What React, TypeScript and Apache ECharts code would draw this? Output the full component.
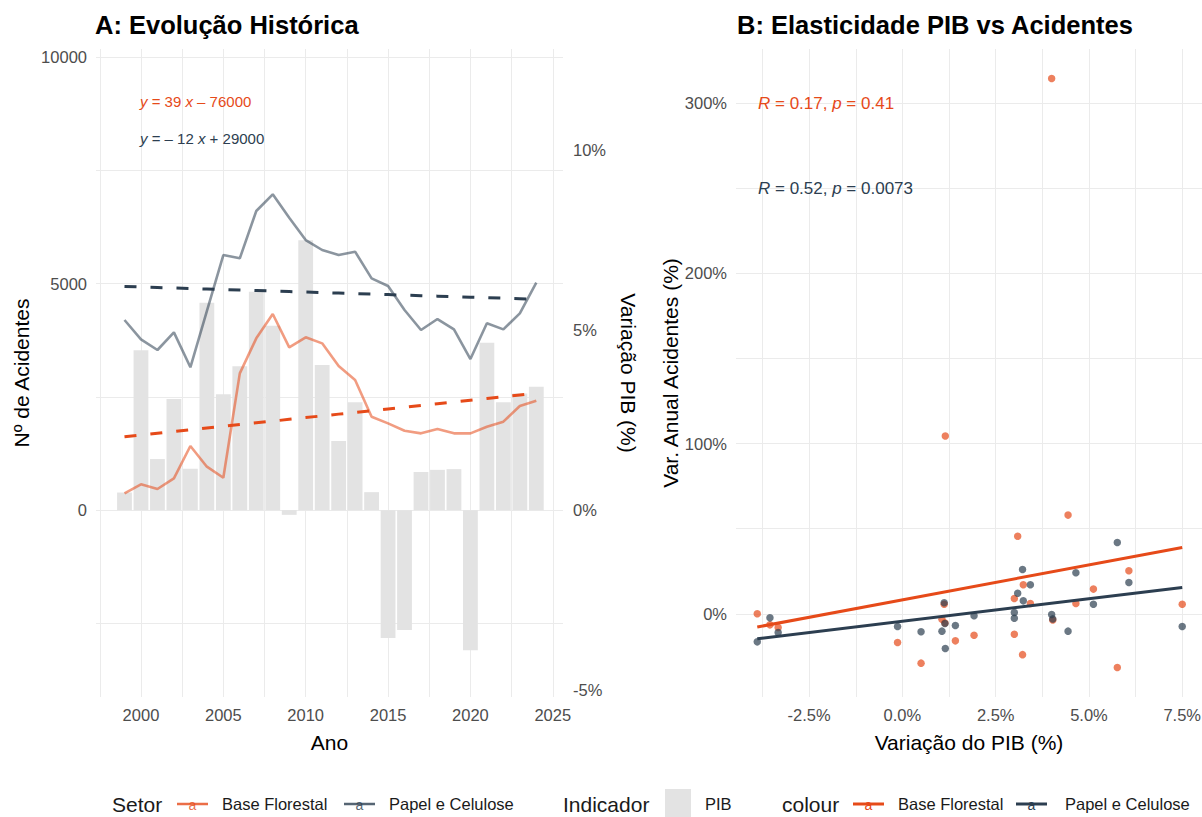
import React, { useEffect, useRef } from "react";
import * as echarts from "echarts";

const FONT = "'Liberation Sans', Arial, sans-serif";

const ORANGE = "#E64A19";
const NAVY = "#2C3E50";

// Panel A data
const years = [1999, 2000, 2001, 2002, 2003, 2004, 2005, 2006, 2007, 2008, 2009, 2010, 2011, 2012, 2013, 2014, 2015, 2016, 2017, 2018, 2019, 2020, 2021, 2022, 2023, 2024];
const pib = [0.49, 4.44, 1.42, 3.09, 1.15, 5.76, 3.22, 4.0, 6.07, 5.12, -0.13, 7.5, 4.03, 1.92, 3.0, 0.5, -3.55, -3.33, 1.06, 1.12, 1.14, -3.89, 4.65, 3.0, 3.24, 3.43];
const baseFlorestal = [368, 567, 464, 700, 1413, 956, 713, 3017, 3790, 4327, 3591, 3812, 3679, 3179, 2870, 2060, 1913, 1751, 1692, 1788, 1692, 1692, 1839, 1950, 2296, 2413];
const papelCelulose = [4194, 3768, 3532, 3922, 3150, 4390, 5629, 5556, 6600, 6969, 6450, 5960, 5740, 5630, 5703, 5114, 4945, 4415, 3973, 4216, 3988, 3333, 4121, 3988, 4342, 5020];

// Panel B data (years 2000..2024): annual variation of accidents (%)
const varBaseFlorestal = [58, -15.9, 45.6, 104.5, -31.6, -24, 314.6, 25.3, 14.5, -16.9, 5.6, -3.7, -12.6, -12, -29, -6.5, -8.1, -3.2, 5.6, -5.4, 0, 6, 9, 17.1, 6];
const varPapelCelulose = [-10.2, -6.9, 12.1, -20.4, 41.9, 26, -0.4, 18.4, 5.6, -7.5, -7.5, -3, -1.2, 0.8, -10.6, -2.4, -11, -10.2, 6.5, -5.7, -16.5, 24.1, -2.6, 7.6, 17.1];

// Tick values
const yearLabels = [2000, 2005, 2010, 2015, 2020, 2025];
const yearGrid = [1997.5, 2000, 2002.5, 2005, 2007.5, 2010, 2012.5, 2015, 2017.5, 2020, 2022.5, 2025];
const accLabels = [0, 5000, 10000];
const accGrid = [-2500, 0, 2500, 5000, 7500, 10000];
const pibLabels = [-5, 0, 5, 10];
const gdpLabels = [-2.5, 0, 2.5, 5, 7.5];
const gdpGrid = [-3.75, -2.5, -1.25, 0, 1.25, 2.5, 3.75, 5, 6.25, 7.5];
const varLabels = [0, 100, 200, 300];
const varGrid = [0, 50, 100, 150, 200, 250, 300];

function linReg(xs: number[], ys: number[]) {
  const n = xs.length;
  const mx = xs.reduce((s, v) => s + v, 0) / n;
  const my = ys.reduce((s, v) => s + v, 0) / n;
  let sxy = 0, sxx = 0;
  for (let i = 0; i < n; i++) {
    sxy += (xs[i] - mx) * (ys[i] - my);
    sxx += (xs[i] - mx) * (xs[i] - mx);
  }
  const b = sxy / sxx;
  return { a: my - b * mx, b };
}

const GRID_COLOR = "#EBEBEB";
const TICK_COLOR = "#4D4D4D";

export default function App() {
  const ref = useRef<HTMLDivElement>(null);
  useEffect(() => {
    document.body.style.margin = "0";
    const chart = echarts.init(ref.current!, undefined, { renderer: "svg" });

    const gdpX = pib.slice(1);
    const regBF = linReg(years, baseFlorestal);
    const regPC = linReg(years, papelCelulose);
    const sBF = linReg(gdpX, varBaseFlorestal);
    const sPC = linReg(gdpX, varPapelCelulose);
    const xmin = Math.min(...gdpX);
    const xmax = Math.max(...gdpX);

    const tickLabel = { color: TICK_COLOR, fontSize: 16.5, fontFamily: FONT };
    const nameStyle = { color: "#000", fontSize: 21, fontFamily: FONT };
    const split = { show: true, lineStyle: { color: GRID_COLOR, width: 1 } };

    const legendY = 804;
    const legendText = (x: number, text: string, size: number) => ({
      type: "text",
      x,
      y: legendY,
      style: { text, fill: "#1A1A1A", font: `${size}px ${FONT}`, verticalAlign: "middle", align: "left" },
    });
    const legendKey = (x: number, color: string, w: number, op: number) => [
      { type: "line", shape: { x1: x, y1: legendY, x2: x + 31, y2: legendY }, style: { stroke: color, lineWidth: w, opacity: op } },
      { type: "text", x: x + 15.5, y: legendY + 1, style: { text: "a", fill: color, opacity: op, font: `14px ${FONT}`, align: "center", verticalAlign: "middle" } },
    ];

    const option: any = {
      animation: false,
      backgroundColor: "#fff",
      grid: [
        { left: 96, top: 49, width: 467, height: 648, outerBoundsMode: "none" },
        { left: 736, top: 49, width: 466, height: 648, outerBoundsMode: "none" },
      ],
      xAxis: [
        {
          type: "value", gridIndex: 0, min: 1997.27, max: 2025.62,
          axisLine: { show: false },
          axisTick: { show: false, customValues: yearGrid },
          splitLine: { ...split, customValues: yearGrid },
          axisLabel: { ...tickLabel, customValues: yearLabels, margin: 9, formatter: (v: number) => String(v) },
          name: "Ano", nameLocation: "middle", nameGap: 35, nameTextStyle: nameStyle,
        },
        {
          type: "value", gridIndex: 1, min: -4.46, max: 8.03,
          axisLine: { show: false },
          axisTick: { show: false, customValues: gdpGrid },
          splitLine: { ...split, customValues: gdpGrid },
          axisLabel: { ...tickLabel, customValues: gdpLabels, margin: 9, formatter: (v: number) => v.toFixed(1) + "%" },
          name: "Variação do PIB (%)", nameLocation: "middle", nameGap: 35, nameTextStyle: nameStyle,
        },
      ],
      yAxis: [
        {
          type: "value", gridIndex: 0, min: -4128, max: 10177,
          axisLine: { show: false },
          axisTick: { show: false, customValues: accGrid },
          splitLine: { ...split, customValues: accGrid },
          axisLabel: { ...tickLabel, customValues: accLabels, margin: 9, formatter: (v: number) => String(v) },
          name: "Nº de Acidentes", nameLocation: "middle", nameGap: 64, nameTextStyle: nameStyle,
        },
        {
          type: "value", gridIndex: 0, position: "right", min: -5.19, max: 12.81,
          axisLine: { show: false },
          axisTick: { show: false, customValues: pibLabels },
          splitLine: { show: false },
          axisLabel: { ...tickLabel, customValues: pibLabels, margin: 10, formatter: (v: number) => v + "%" },
          name: "Variação PIB (%)", nameLocation: "middle", nameGap: 55, nameRotate: -90, nameTextStyle: nameStyle,
        },
        {
          type: "value", gridIndex: 1, min: -48.9, max: 331.9,
          axisLine: { show: false },
          axisTick: { show: false, customValues: varGrid },
          splitLine: { ...split, customValues: varGrid },
          axisLabel: { ...tickLabel, customValues: varLabels, margin: 9, formatter: (v: number) => v + "%" },
          name: "Var. Anual Acidentes (%)", nameLocation: "middle", nameGap: 54, nameTextStyle: nameStyle,
        },
      ],
      series: [
        {
          name: "PIB", type: "bar", xAxisIndex: 0, yAxisIndex: 1,
          data: years.map((y, i) => [y, pib[i]]),
          barWidth: 14.8, itemStyle: { color: "#E3E3E3" }, z: 1,
        },
        {
          name: "Base Florestal", type: "line", xAxisIndex: 0, yAxisIndex: 0,
          data: years.map((y, i) => [y, baseFlorestal[i]]),
          showSymbol: false, symbol: "none",
          lineStyle: { color: ORANGE, width: 2.6, opacity: 0.55 }, z: 2,
        },
        {
          name: "Papel e Celulose", type: "line", xAxisIndex: 0, yAxisIndex: 0,
          data: years.map((y, i) => [y, papelCelulose[i]]),
          showSymbol: false, symbol: "none",
          lineStyle: { color: NAVY, width: 2.6, opacity: 0.55 }, z: 2,
        },
        {
          name: "Tendência BF", type: "line", xAxisIndex: 0, yAxisIndex: 0,
          data: years.map((y) => [y, regBF.a + regBF.b * y]),
          showSymbol: false, symbol: "none",
          lineStyle: { color: ORANGE, width: 3, type: [12, 14] }, z: 3,
        },
        {
          name: "Tendência PC", type: "line", xAxisIndex: 0, yAxisIndex: 0,
          data: years.map((y) => [y, regPC.a + regPC.b * y]),
          showSymbol: false, symbol: "none",
          lineStyle: { color: NAVY, width: 3, type: [12, 14] }, z: 3,
        },
        {
          name: "BF pontos", type: "scatter", xAxisIndex: 1, yAxisIndex: 2,
          data: gdpX.map((x, i) => [x, varBaseFlorestal[i]]),
          symbolSize: 7.5, itemStyle: { color: ORANGE, opacity: 0.7 }, z: 2,
        },
        {
          name: "PC pontos", type: "scatter", xAxisIndex: 1, yAxisIndex: 2,
          data: gdpX.map((x, i) => [x, varPapelCelulose[i]]),
          symbolSize: 7.5, itemStyle: { color: NAVY, opacity: 0.7 }, z: 2,
        },
        {
          name: "BF reg", type: "line", xAxisIndex: 1, yAxisIndex: 2,
          data: [[xmin, sBF.a + sBF.b * xmin], [xmax, sBF.a + sBF.b * xmax]],
          showSymbol: false, symbol: "none",
          lineStyle: { color: ORANGE, width: 3 }, z: 3,
        },
        {
          name: "PC reg", type: "line", xAxisIndex: 1, yAxisIndex: 2,
          data: [[xmin, sPC.a + sPC.b * xmin], [xmax, sPC.a + sPC.b * xmax]],
          showSymbol: false, symbol: "none",
          lineStyle: { color: NAVY, width: 3 }, z: 3,
        },
      ],
      graphic: [
        { type: "text", x: 95, y: 25, style: { text: "A: Evolução Histórica", fill: "#000", font: `bold 25.5px ${FONT}`, verticalAlign: "middle" } },
        { type: "text", x: 737, y: 25, style: { text: "B: Elasticidade PIB vs Acidentes", fill: "#000", font: `bold 25.5px ${FONT}`, verticalAlign: "middle" } },
        {
          type: "text", x: 140, y: 101, z: 10,
          style: {
            text: "{i|y} = 39 {i|x} – 76000", fill: ORANGE, font: `15px ${FONT}`, verticalAlign: "middle",
            rich: { i: { fontStyle: "italic", fontSize: 15, fontFamily: FONT, fill: ORANGE } },
          },
        },
        {
          type: "text", x: 140, y: 138, z: 10,
          style: {
            text: "{i|y} = – 12 {i|x} + 29000", fill: NAVY, font: `15px ${FONT}`, verticalAlign: "middle",
            rich: { i: { fontStyle: "italic", fontSize: 15, fontFamily: FONT, fill: NAVY } },
          },
        },
        {
          type: "text", x: 758, y: 103, z: 10,
          style: {
            text: "{i|R} = 0.17, {i|p} = 0.41", fill: ORANGE, font: `17px ${FONT}`, verticalAlign: "middle",
            rich: { i: { fontStyle: "italic", fontSize: 17, fontFamily: FONT, fill: ORANGE } },
          },
        },
        {
          type: "text", x: 758, y: 188, z: 10,
          style: {
            text: "{i|R} = 0.52, {i|p} = 0.0073", fill: NAVY, font: `17px ${FONT}`, verticalAlign: "middle",
            rich: { i: { fontStyle: "italic", fontSize: 17, fontFamily: FONT, fill: NAVY } },
          },
        },
        // Legend
        legendText(112, "Setor", 21),
        ...legendKey(177, ORANGE, 2.5, 0.8),
        legendText(222, "Base Florestal", 16.5),
        ...legendKey(344, NAVY, 2.5, 0.8),
        legendText(389, "Papel e Celulose", 16.5),
        legendText(563, "Indicador", 21),
        { type: "rect", shape: { x: 665, y: 789, width: 26, height: 30 }, style: { fill: "#E3E3E3" } },
        legendText(705, "PIB", 16.5),
        legendText(782, "colour", 21),
        ...legendKey(853, ORANGE, 3, 1),
        legendText(898, "Base Florestal", 16.5),
        ...legendKey(1016, NAVY, 3, 1),
        legendText(1065, "Papel e Celulose", 16.5),
      ],
    };

    chart.setOption(option);
    return () => chart.dispose();
  }, []);

  return <div ref={ref} style={{ width: 1202, height: 817 }} />;
}
